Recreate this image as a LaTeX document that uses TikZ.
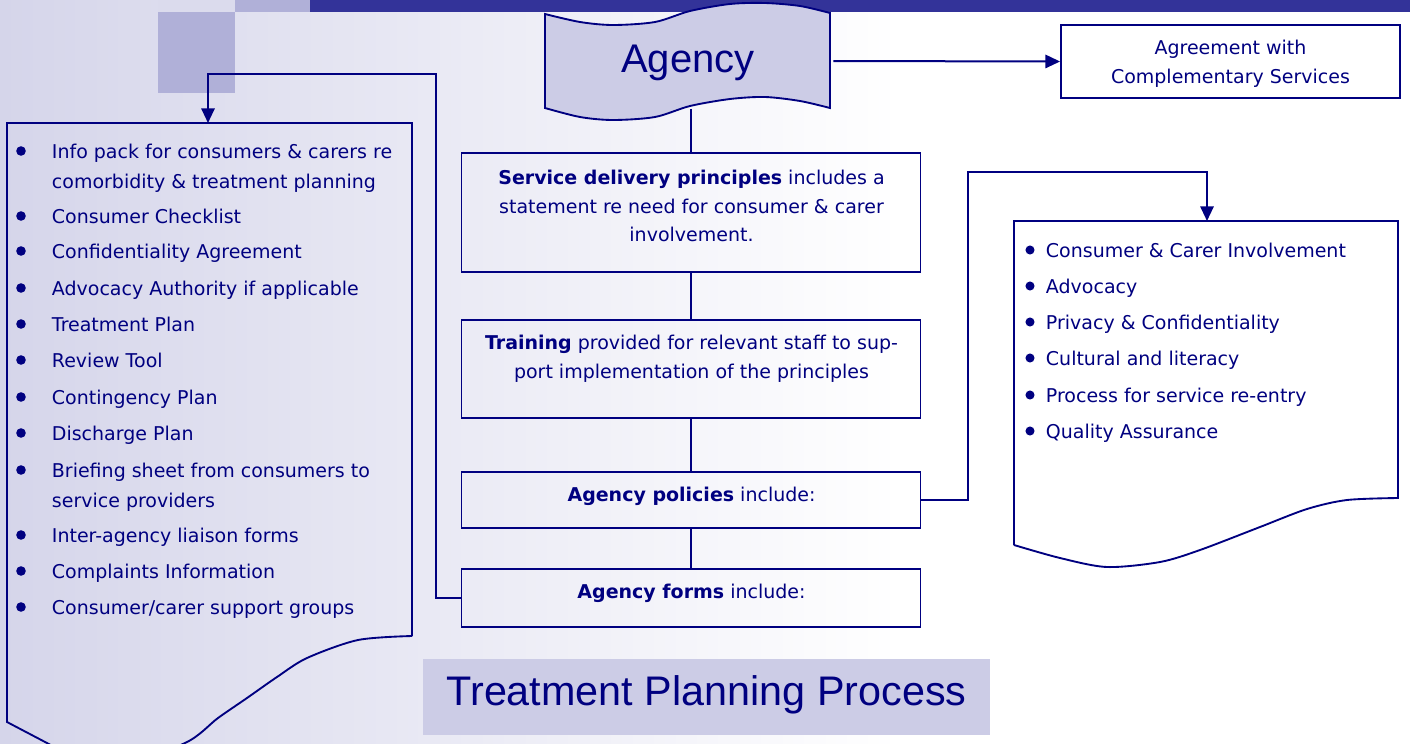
\documentclass[tikz,border=0pt]{standalone}
\usepackage{fontspec}
\setmainfont{DejaVu Sans}
\newfontfamily\arialf{Liberation Sans}
\usetikzlibrary{arrows.meta}
\definecolor{navy}{HTML}{000080}
\definecolor{barblue}{HTML}{333399}
\definecolor{lav}{HTML}{CCCCE6}
\definecolor{medlav}{HTML}{B0B0D8}
\definecolor{bgl}{HTML}{D5D5EA}
\begin{document}
\begin{tikzpicture}[x=0.75pt,y=-0.75pt,line width=1.4pt,
  bodyfont/.style={font=\fontsize{14.25}{21.5}\selectfont},
  boxframe/.style={draw=navy,rectangle,inner sep=0pt},
  boxtext/.style={bodyfont,text=navy,align=center,inner sep=0pt},
  lt/.style={bodyfont,text=navy,anchor=base west,inner sep=0pt},
  conn/.style={draw=navy,line width=1.5pt},
  tip/.style={-{Triangle[length=11pt,width=10pt]}}]
\useasboundingbox (0,0) rectangle (1410,743);
\clip (0,0) rectangle (1410,743);
% background
\shade[left color=bgl,right color=white] (0,0) rectangle (900,743);
\fill[white] (899,0) rectangle (1410,743);
% top decoration
\fill[barblue] (310,0) rectangle (1410,12);
\fill[medlav] (235,0) rectangle (310,12);
\fill[medlav] (158,12) rectangle (235,93);
\fill[bgl!85!white] (158,0) rectangle (235,12);
% Agency banner
\draw[navy,fill=lav] plot[smooth] coordinates {(545,14) (580,22) (613,25) (655,22) (690,11) (730,4) (765,3) (800,6) (830,13)}
  -- plot[smooth] coordinates {(830,108) (800,101) (765,97) (730,99) (690,106) (655,117) (613,120) (580,117) (545,108)} -- cycle;
\node[inner sep=0pt,minimum width=212pt,minimum height=70.5pt] (agency) at (691,61) {};
\node[font=\arialf\fontsize{30}{36}\selectfont,text=navy] (agencytxt) at (688,63) {Agency};
% Agreement box
\node[boxframe,minimum width=254.25pt,minimum height=54.75pt] (agree) at (1230.5,61.5) {};
\node[boxtext] (agreetxt) at (1230.5,63.5) {Agreement with\\Complementary Services};
% central boxes
\node[boxframe,minimum width=344.25pt,minimum height=89.25pt] (service) at (691,212.5) {};
\node[boxtext] (servicetxt) at (691.5,206) {\textbf{Service delivery principles} includes a\\statement re need for consumer \& carer\\involvement.};
\node[boxframe,minimum width=344.25pt,minimum height=73.5pt] (training) at (691,369) {};
\node[boxtext] (trainingtxt) at (691.5,359) {\textbf{Training} provided for relevant staff to sup-\\port implementation of the principles};
\node[boxframe,minimum width=344.25pt,minimum height=42pt] (policies) at (691,500) {};
\node[boxtext] (policiestxt) at (691.5,496) {\textbf{Agency policies} include:};
\node[boxframe,minimum width=344.25pt,minimum height=43.5pt] (forms) at (691,598) {};
\node[boxtext] (formstxt) at (691.5,593) {\textbf{Agency forms} include:};
% vertical connectors
\draw[conn] (agency.south) -- (service.north);
\draw[conn] (service.south) -- (training.north);
\draw[conn] (training.south) -- (policies.north);
\draw[conn] (policies.south) -- (forms.north);
\draw[conn,tip] (agency.east) -- (agree.west);
% right document
\draw[navy] (1014,545) -- (1014,221) -- (1398,221) -- (1398,498)
  -- plot[smooth] coordinates {(1398,498) (1347,500) (1307,509) (1260,527) (1200,550) (1160,562) (1107,567) (1060,558) (1014,545)};
\coordinate (rdoc) at (1207,221);
\draw[conn,tip] (policies.east) -- ++(47,0) -- ++(0,-328) -| (rdoc);
% left document
\draw[navy] (412,636) -- (412,123) -- (7,123) -- (7,722) -- (47,743)
  -- plot[smooth] coordinates {(47,743) (110,768) (185,743) (218,718) (247,698) (277,677) (307,658) (358,640) (412,636)};
\coordinate (ldoc) at (208,123);
\draw[conn,tip] (forms.west) -- ++(-25,0) -- ++(0,-524) -| (ldoc);
% left list
\foreach \y in {151,216,251,288,324,360,397,433,470,535,571,607}
  \fill[navy] (21,\y) circle[radius=3.6pt];
\node[lt] (l1) at (51,158) {Info pack for consumers \& carers re};
\node[lt] (l1b) at (51,188) {comorbidity \& treatment planning};
\node[lt] (l2) at (51,223) {Consumer Checklist};
\node[lt] (l3) at (51,258) {Confidentiality Agreement};
\node[lt] (l4) at (51,295) {Advocacy Authority if applicable};
\node[lt] (l5) at (51,331) {Treatment Plan};
\node[lt] (l6) at (51,367) {Review Tool};
\node[lt] (l7) at (51,404) {Contingency Plan};
\node[lt] (l8) at (51,440) {Discharge Plan};
\node[lt] (l9) at (51,477) {Briefing sheet from consumers to};
\node[lt] (l9b) at (51,507) {service providers};
\node[lt] (l10) at (51,542) {Inter-agency liaison forms};
\node[lt] (l11) at (51,578) {Complaints Information};
\node[lt] (l12) at (51,614) {Consumer/carer support groups};
% right list
\foreach \y in {250,286,322,358,395,431}
  \fill[navy] (1030,\y) circle[radius=3.4pt];
\node[lt] (r1) at (1045,257) {Consumer \& Carer Involvement};
\node[lt] (r2) at (1045,293) {Advocacy};
\node[lt] (r3) at (1045,329) {Privacy \& Confidentiality};
\node[lt] (r4) at (1045,365) {Cultural and literacy};
\node[lt] (r5) at (1045,402) {Process for service re-entry};
\node[lt] (r6) at (1045,438) {Quality Assurance};
% title
\node[fill=lav,inner sep=0pt,minimum width=425.25pt,minimum height=57pt] (titlebox) at (706.5,697) {};
\node[font=\arialf\fontsize{31}{37}\selectfont,text=navy] (titletxt) at (706.5,695) {Treatment Planning Process};
\end{tikzpicture}
\end{document}
